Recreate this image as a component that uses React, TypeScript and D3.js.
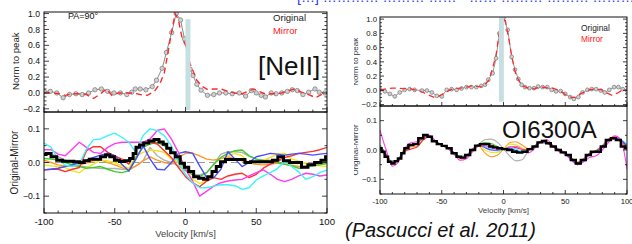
import React from "react";
import * as d3 from "d3";

// ---------------- DATA ----------------
const X_MAJOR = [-100, -50, 0, 50, 100];
const X_MINOR = [-90, -80, -70, -60, -40, -30, -20, -10, 10, 20, 30, 40, 60, 70, 80, 90];
const TOP_Y_MAJOR = [-0.2, 0.0, 0.2, 0.4, 0.6, 0.8, 1.0];
const BOT_Y_MAJOR = [-0.1, 0.0, 0.1];

const GRID_V = [-100, -95, -90, -85, -80, -75, -70, -65, -60, -55, -50, -45, -40, -35, -30, -25, -20, -15, -10, -5, 0,
  5, 10, 15, 20, 25, 30, 35, 40, 45, 50, 55, 60, 65, 70, 75, 80, 85, 90, 95, 100];

// [NeII] top panel: original (gray markers) and mirror (red dashed)
const NEII_ORIG_V = [-100, -95.5, -91, -86.5, -82, -77.5, -73, -68.5, -64, -59.5, -55, -50.5, -46, -41.5, -38, -35.5, -32, -28, -23.5, -20.5, -16.5, -13.5, -9.8, -6.6, -3.5, -0.7, 3.3, 5.3, 8, 11, 15.5, 20, 24, 28.5, 33, 38, 42.5, 46.5, 50, 53.5, 56.5, 60.5, 64, 68, 72, 75.5, 79, 83, 87, 91.5, 94.5, 98.5];
const NEII_ORIG = [0.02, 0.02, 0.0, -0.06, -0.02, -0.01, -0.02, 0.0, 0.04, 0.05, 0.02, 0.0, 0.0, -0.02, 0.01, 0.05, 0.05, 0.04, 0.08, 0.16, 0.31, 0.51, 0.76, 1.0, 0.92, 0.68, 0.30, 0.22, 0.11, 0.035, -0.03, -0.02, 0.0, 0.0, -0.01, 0.0, -0.04, 0.03, 0.0, -0.03, -0.05, 0.0, -0.01, 0.0, 0.02, 0.04, 0.03, -0.02, 0.01, 0.05, 0.01, 0.0];
const NEII_MIRR_V = [-100, -94, -89, -85, -80, -75, -70, -65, -60, -56, -52, -47, -42, -37, -32, -27, -22, -18, -15, -12, -9.5, -7.3, -5, -2.5, 0, 3, 5.5, 8, 12, 16, 20, 25, 30, 35, 40, 44, 48, 52, 56, 62, 68, 73, 77, 82, 87, 92, 96, 100];
const NEII_MIRR = [0.0, 0.0, -0.01, -0.03, -0.01, -0.01, -0.02, -0.07, -0.01, 0.05, -0.03, 0.0, 0.0, 0.0, -0.02, -0.03, 0.02, 0.12, 0.25, 0.55, 0.8, 1.0, 0.92, 0.7, 0.6, 0.38, 0.27, 0.16, 0.08, 0.04, 0.05, 0.05, 0.02, 0.0, -0.01, 0.02, 0.05, 0.02, -0.01, -0.01, 0.0, 0.03, 0.05, 0.01, -0.02, -0.06, -0.02, 0.0];

// [NeII] bottom panel: original - mirror
const NEII_DIFF_V = [-100, -97, -93, -89, -85, -81, -77, -73, -70, -66, -62, -58, -55, -52, -48.5, -45, -41, -38, -36, -34, -31, -28, -24, -20.5, -17, -14.5, -12, -9, -5.5, -2, 0.5, 4, 7.5, 11, 14.5, 17, 20.5, 23, 26.5, 30, 33, 37, 40, 44, 48, 52, 56, 60, 63, 67.5, 71, 76, 80, 84, 89, 93.5, 98, 100];
const NEII_DIFF = [0.024, 0.027, 0.017, 0.007, 0.004, 0.004, 0.002, 0.0, 0.005, 0.01, 0.01, 0.017, 0.022, 0.017, 0.007, 0.003, 0.005, 0.012, 0.027, 0.045, 0.052, 0.058, 0.064, 0.068, 0.061, 0.054, 0.042, 0.029, 0.017, -0.002, -0.014, -0.027, -0.042, -0.047, -0.05, -0.042, -0.027, -0.012, 0.002, 0.009, 0.009, 0.009, 0.009, 0.0, 0.002, 0.002, 0.002, 0.002, 0.007, 0.017, 0.005, 0.0, 0.0, -0.014, -0.007, 0.0, 0.007, 0.017];
const NEII_CYAN = [0.058, 0.045, 0.01, -0.008, -0.012, -0.005, 0.04, 0.068, 0.07, 0.08, 0.087, 0.075, 0.06, 0.03, 0.08, 0.1, 0.095, 0.08, 0.05, 0.0, -0.035, -0.06, -0.075, -0.075, -0.07, -0.066, -0.066, -0.069, -0.08, -0.075, -0.052, -0.04, -0.03, -0.018, 0.003, -0.012, -0.028, -0.05, -0.042, -0.03, -0.022];
const NEII_MAGENTA = [0.038, 0.038, 0.025, 0.02, 0.04, 0.06, 0.045, 0.03, 0.027, 0.045, 0.056, 0.06, 0.06, 0.06, 0.06, 0.07, 0.095, 0.1, 0.07, 0.03, -0.02, -0.055, -0.1, -0.085, -0.07, -0.06, -0.055, -0.052, -0.05, -0.04, -0.03, -0.022, -0.035, -0.05, -0.057, -0.05, -0.04, -0.032, -0.035, -0.04, -0.037];
const NEII_RED = [-0.022, -0.02, -0.02, -0.027, -0.02, -0.015, 0.035, 0.047, 0.047, 0.03, 0.02, 0.01, -0.005, 0.035, 0.055, 0.06, 0.055, 0.035, 0.015, -0.015, -0.042, -0.06, -0.072, -0.055, -0.045, -0.05, -0.04, -0.035, -0.032, -0.045, -0.035, -0.017, -0.005, 0.005, 0.015, 0.02, 0.027, 0.03, 0.033, 0.038, 0.045];
const NEII_BLUE = [-0.022, -0.02, -0.017, -0.012, -0.007, 0.0, 0.007, 0.015, 0.022, 0.027, 0.02, -0.005, -0.025, 0.01, 0.05, 0.01, -0.02, -0.022, 0.0, 0.027, 0.032, 0.028, -0.01, -0.045, -0.045, -0.02, 0.032, 0.01, -0.012, 0.0, 0.017, 0.022, 0.027, 0.025, 0.022, 0.025, 0.027, 0.025, 0.022, 0.025, 0.027];
const NEII_GREEN = [0.012, 0.01, 0.007, 0.0, -0.007, -0.012, -0.017, -0.015, -0.012, -0.02, -0.027, -0.03, -0.025, 0.015, 0.045, 0.055, 0.06, 0.05, 0.035, 0.01, -0.022, -0.037, -0.042, -0.03, -0.005, 0.015, 0.027, 0.035, 0.037, 0.02, 0.01, 0.005, 0.003, 0.0, -0.005, -0.01, -0.017, -0.015, -0.01, -0.007, -0.003];
const NEII_YELLOW = [-0.007, -0.01, -0.012, -0.015, -0.025, -0.03, -0.015, -0.005, 0.007, 0.005, 0.0, -0.01, -0.017, 0.02, 0.03, 0.037, 0.035, 0.03, 0.01, 0.0, -0.02, -0.05, -0.062, -0.055, -0.03, -0.005, 0.02, 0.027, 0.02, -0.003, 0.0, 0.007, 0.015, 0.025, 0.027, 0.01, 0.005, -0.003, -0.007, -0.01, -0.012];
const NEII_ORANGE = [0.007, 0.0, -0.007, -0.01, -0.012, -0.008, -0.002, 0.005, 0.008, 0.0, -0.007, -0.015, -0.022, -0.01, 0.005, 0.017, 0.007, 0.0, -0.005, 0.015, 0.027, 0.027, 0.02, 0.01, 0.007, 0.012, 0.017, 0.01, 0.005, -0.002, -0.005, -0.007, -0.005, -0.002, -0.005, -0.008, -0.012, -0.01, -0.007, -0.005, -0.002];
const NEII_GRAY = [0.027, 0.025, 0.017, 0.008, -0.002, -0.01, -0.013, -0.016, -0.018, -0.018, -0.018, -0.02, -0.022, -0.01, 0.005, 0.045, 0.02, 0.007, 0.0, -0.01, -0.025, -0.035, -0.037, -0.03, -0.005, 0.025, 0.032, 0.032, 0.03, 0.018, 0.01, 0.008, 0.007, 0.007, 0.005, 0.003, 0.0, -0.002, -0.003, 0.0, 0.0];

// OI 6300A top panel
const OI_ORIG_V = [-100, -96, -92, -88, -84, -80, -76, -72, -66, -62, -58, -54, -50, -46, -42, -38, -34, -30, -26, -22, -18, -15, -12.3, -8.8, -6, -3.4, 0, 3.4, 6.6, 9.3, 12, 14.7, 17.4, 21, 24.7, 28, 31.7, 35.5, 39, 42.5, 46.3, 50, 54, 57, 60.6, 64, 68, 71.4, 75, 78.7, 82, 85.7, 89.5, 93, 96.5, 100];
const OI_ORIG = [0.007, -0.015, -0.05, -0.085, -0.03, 0.007, 0.017, 0.007, -0.003, -0.003, -0.03, -0.077, -0.085, 0.007, 0.017, 0.007, 0.026, 0.045, 0.045, 0.045, 0.063, 0.08, 0.15, 0.24, 0.45, 0.8, 1.02, 0.85, 0.47, 0.29, 0.16, 0.077, 0.045, 0.03, 0.03, 0.053, 0.045, 0.045, 0.007, -0.015, -0.01, -0.05, -0.095, -0.12, -0.095, -0.03, 0.007, 0.017, 0.017, -0.003, -0.03, 0.007, 0.045, 0.045, 0.017, -0.003];
const OI_MIRR_V = [-100, -95, -90, -85, -80, -75, -70, -65, -60, -56, -52, -48, -44, -40, -35, -30, -26, -22, -18, -15, -12, -9, -6, -3.5, -1, 1.5, 4, 7, 10, 13, 16, 20, 25, 30, 35, 40, 45, 50, 55, 58, 62, 66, 70, 75, 80, 84, 88, 92, 96, 100];
const OI_MIRR = [0.007, 0.02, 0.03, 0.03, 0.025, 0.02, 0.0, -0.03, -0.07, -0.1, -0.08, -0.04, 0.0, 0.025, 0.03, 0.045, 0.063, 0.055, 0.05, 0.08, 0.14, 0.3, 0.5, 0.8, 1.0, 0.98, 0.75, 0.45, 0.22, 0.12, 0.06, 0.03, 0.02, 0.05, 0.035, 0.03, 0.0, -0.06, -0.1, -0.1, -0.05, -0.02, 0.01, 0.015, 0.005, -0.04, -0.07, -0.04, 0.0, 0.007];

// OI 6300A bottom panel
const OI_DIFF_V = [-100, -97.5, -95, -92, -89.5, -87, -84, -81.5, -79, -75, -71, -67, -63, -60, -56, -52, -48, -44, -40, -36, -33, -29, -25, -21, -17, -13, -10, -7, -3, 1, 5, 9, 13, 17.4, 21.5, 25.5, 29.6, 32.8, 36.3, 40.3, 44.4, 48.4, 52.5, 56.5, 60.6, 64.6, 68.7, 72.7, 76.8, 80.8, 84.9, 89, 93, 97, 100];
const OI_DIFF = [0.006, -0.006, -0.023, -0.04, -0.046, -0.038, -0.029, -0.011, 0.006, 0.017, 0.02, 0.04, 0.051, 0.045, 0.03, 0.02, 0.014, 0.006, -0.011, -0.023, -0.026, -0.017, 0.0, 0.015, 0.02, 0.02, 0.012, 0.009, 0.006, 0.003, 0.0, -0.006, -0.009, -0.006, 0.003, 0.012, 0.026, 0.031, 0.023, 0.012, 0.0, -0.008, -0.017, -0.034, -0.046, -0.034, -0.017, -0.006, -0.006, 0.012, 0.034, 0.04, 0.034, 0.012, 0.006];
const OI_MAGENTA = [0.068, 0.0, -0.055, -0.04, 0.005, 0.025, 0.028, 0.042, 0.05, 0.03, 0.015, 0.005, -0.015, -0.035, -0.03, -0.005, 0.015, 0.015, 0.007, 0.002, 0.004, 0.01, 0.013, 0.002, -0.01, 0.005, 0.028, 0.035, 0.015, -0.005, -0.015, -0.035, -0.05, -0.04, -0.025, -0.02, 0.0, 0.025, 0.048, 0.035, -0.065];
const OI_RED = [0.0, -0.015, -0.045, -0.035, -0.005, 0.003, 0.01, 0.035, 0.045, 0.03, 0.017, 0.008, -0.01, -0.025, -0.02, 0.002, 0.018, 0.02, 0.017, 0.007, 0.004, 0.01, 0.008, 0.002, 0.0, 0.012, 0.03, 0.028, 0.015, 0.002, -0.01, -0.027, -0.042, -0.03, -0.01, -0.002, 0.015, 0.037, 0.045, 0.035, 0.01];
const OI_ORANGE = [-0.005, -0.02, -0.045, -0.035, -0.002, 0.01, 0.012, 0.035, 0.045, 0.028, 0.015, 0.005, -0.012, -0.03, -0.025, -0.005, 0.013, -0.01, -0.023, -0.018, 0.004, 0.025, 0.028, 0.017, 0.005, 0.01, 0.025, 0.022, 0.01, -0.002, -0.013, -0.03, -0.045, -0.035, -0.015, -0.007, 0.008, 0.03, 0.038, 0.028, 0.005];
const OI_GREEN = [0.017, -0.015, -0.042, -0.03, 0.005, 0.015, 0.022, 0.042, 0.047, 0.03, 0.017, 0.008, -0.008, -0.022, -0.018, 0.002, 0.02, 0.025, 0.022, 0.012, 0.004, 0.0, -0.002, -0.008, 0.0, 0.013, 0.028, 0.027, 0.014, 0.002, -0.01, -0.028, -0.043, -0.032, -0.012, -0.004, 0.012, 0.034, 0.04, 0.03, 0.01];
const OI_YELLOW = [0.01, -0.018, -0.043, -0.03, 0.003, 0.013, 0.02, 0.04, 0.046, 0.03, 0.016, 0.007, -0.01, -0.026, -0.02, 0.0, 0.018, 0.0, -0.008, -0.008, 0.004, 0.02, 0.018, 0.007, 0.0, 0.012, 0.027, 0.025, 0.012, 0.0, -0.012, -0.03, -0.045, -0.033, -0.012, -0.004, 0.01, 0.033, 0.04, 0.032, 0.015];
const OI_CYAN = [0.01, -0.02, -0.045, -0.033, 0.0, 0.015, 0.022, 0.043, 0.048, 0.03, 0.018, 0.008, -0.01, -0.026, -0.02, 0.0, 0.018, 0.01, 0.002, -0.003, 0.004, 0.01, 0.003, -0.003, 0.0, 0.012, 0.027, 0.025, 0.012, 0.0, -0.012, -0.03, -0.046, -0.034, -0.013, -0.005, 0.01, 0.033, 0.042, 0.035, 0.02];
const OI_BLUE = [0.008, -0.02, -0.044, -0.032, 0.0, 0.016, 0.023, 0.044, 0.049, 0.031, 0.017, 0.008, -0.01, -0.027, -0.021, 0.0, 0.018, 0.008, 0.0, -0.001, 0.004, 0.005, -0.002, -0.008, 0.0, 0.012, 0.027, 0.025, 0.012, 0.0, -0.013, -0.031, -0.05, -0.036, -0.013, -0.005, 0.01, 0.033, 0.041, 0.033, 0.015];
const OI_GRAY = [0.008, -0.022, -0.045, -0.032, 0.0, 0.017, 0.025, 0.045, 0.048, 0.03, 0.017, 0.008, -0.01, -0.025, -0.018, 0.005, 0.02, 0.035, 0.037, 0.027, 0.004, -0.02, -0.037, -0.033, -0.005, 0.012, 0.027, 0.025, 0.012, 0.0, -0.012, -0.03, -0.045, -0.033, -0.012, -0.005, 0.01, 0.033, 0.04, 0.03, 0.01];

// velocity bands (shaded)
const NEII_BAND = [0.0, 3.5, 0.93, -0.215];
const OI_BAND = [-3.7, 0.3, 1.03, -0.16];

// ---------------- STYLE ----------------
const FONT = "'Liberation Sans', Arial, Helvetica, sans-serif";
const COL = {
  gray: "#b0b0b0", orange: "#ff9a2a", yellow: "#f4e41c", green: "#3ccc2e",
  red: "#ff3030", blue: "#4a4cff", magenta: "#ff3cf0", cyan: "#3cf4f4",
};

type Pt = [number, number];
const zip = (v: number[], y: number[]): Pt[] => v.map((d, i) => [d, y[i]]);

type Scale = d3.ScaleLinear<number, number>;

function Frame({ x, y }: { x: Scale; y: Scale }) {
  const [x0, x1] = x.range();
  const [y1, y0] = y.range();
  return <rect x={x0} y={y0} width={x1 - x0} height={y1 - y0} fill="none" stroke="#111" strokeWidth={1} />;
}

function Ticks({ x, y, yMajor, yMinorStep, majorLen, minorLen }: { x: Scale; y: Scale; yMajor: number[]; yMinorStep: number; majorLen: number; minorLen: number }) {
  const [x0, x1] = x.range();
  const [yb] = y.range();
  const [d0, d1] = y.domain();
  const minor: number[] = [];
  const start = Math.ceil(d0 / yMinorStep - 1e-6);
  const end = Math.floor(d1 / yMinorStep + 1e-6);
  for (let k = start; k <= end; k++) minor.push(k * yMinorStep);
  const els: React.ReactNode[] = [];
  minor.forEach((m, i) => {
    const isMajor = yMajor.some((t) => Math.abs(t - m) < 1e-6);
    const L = isMajor ? majorLen : minorLen;
    const py = y(m);
    els.push(<line key={"l" + i} x1={x0} x2={x0 + L} y1={py} y2={py} stroke="#111" strokeWidth={0.8} />);
    els.push(<line key={"r" + i} x1={x1} x2={x1 - L} y1={py} y2={py} stroke="#111" strokeWidth={0.8} />);
  });
  X_MAJOR.forEach((t, i) => {
    els.push(<line key={"xm" + i} x1={x(t)} x2={x(t)} y1={yb} y2={yb - majorLen} stroke="#111" strokeWidth={0.8} />);
  });
  X_MINOR.forEach((t, i) => {
    els.push(<line key={"xn" + i} x1={x(t)} x2={x(t)} y1={yb} y2={yb - minorLen} stroke="#111" strokeWidth={0.8} />);
  });
  return <g>{els}</g>;
}

function YLabels({ y, values, xRight, size }: { y: Scale; values: number[]; xRight: number; size: number }) {
  const f = d3.format(".1f");
  return (
    <g fontFamily={FONT} fontSize={size} fill="#111" textAnchor="end">
      {values.map((v) => (
        <text key={v} x={xRight} y={y(v) + size * 0.36}>{f(v)}</text>
      ))}
    </g>
  );
}

function XLabels({ x, yBase, size }: { x: Scale; yBase: number; size: number }) {
  return (
    <g fontFamily={FONT} fontSize={size} fill="#111" textAnchor="middle">
      {X_MAJOR.map((v) => (
        <text key={v} x={x(v)} y={yBase}>{String(v)}</text>
      ))}
    </g>
  );
}

function TopPanel({ id, x, y, orig, mirr, band, r, lw }: { id: string; x: Scale; y: Scale; orig: Pt[]; mirr: Pt[]; band: number[]; r: number; lw: number }) {
  const line = d3.line<Pt>().x((d) => x(d[0])).y((d) => y(d[1]));
  const [x0, x1] = x.range();
  const [y1, y0] = y.range();
  return (
    <g>
      <clipPath id={id}><rect x={x0} y={y0} width={x1 - x0} height={y1 - y0} /></clipPath>
      <g clipPath={`url(#${id})`}>
        <path d={line(orig) || ""} fill="none" stroke="#8a8a8a" strokeWidth={lw} />
        {orig.map((d, i) => (
          <circle key={i} cx={x(d[0])} cy={y(d[1])} r={r} fill="#d0d0d0" stroke="#777" strokeWidth={0.7} />
        ))}
        <path d={line(mirr) || ""} fill="none" stroke="#ff2a2a" strokeWidth={lw * 1.4} strokeDasharray="6,4" />
        <rect x={x(band[0])} y={y(band[2])} width={x(band[1]) - x(band[0])} height={y(band[3]) - y(band[2])} fill="#c6e0e2" />
      </g>
    </g>
  );
}

function BottomPanel({ id, x, y, lines, black, blackW, lw, smooth, zeroLine }: { id: string; x: Scale; y: Scale; lines: { c: string; d: Pt[] }[]; black: Pt[]; blackW: number; lw: number; smooth: boolean; zeroLine: boolean }) {
  const line = d3.line<Pt>().x((d) => x(d[0])).y((d) => y(d[1])).curve(smooth ? d3.curveMonotoneX : d3.curveLinear);
  const step = d3.line<Pt>().x((d) => x(d[0])).y((d) => y(d[1])).curve(d3.curveStep);
  const [x0, x1] = x.range();
  const [y1, y0] = y.range();
  return (
    <g>
      <clipPath id={id}><rect x={x0} y={y0} width={x1 - x0} height={y1 - y0} /></clipPath>
      <g clipPath={`url(#${id})`}>
        {zeroLine && <line x1={x0} x2={x1} y1={y(0)} y2={y(0)} stroke="#9a9a9a" strokeWidth={1.2} strokeDasharray="7,4" />}
        {lines.map((l, i) => (
          <path key={i} d={line(l.d) || ""} fill="none" stroke={l.c} strokeWidth={lw} strokeLinejoin="round" />
        ))}
        <path d={step(black) || ""} fill="none" stroke="#000" strokeWidth={blackW} />
      </g>
    </g>
  );
}

export default function App() {
  // [NeII] figure scales
  const xL = d3.scaleLinear().domain([-100, 100]).range([44, 327]);
  const yLT = d3.scaleLinear().domain([-0.24, 1.02]).range([112, 12]);
  const yLB = d3.scaleLinear().domain([-0.15, 0.15]).range([213, 112]);
  // OI figure scales
  const xR = d3.scaleLinear().domain([-100, 100]).range([380, 627]);
  const yRT = d3.scaleLinear().domain([-0.22, 1.03]).range([106, 17]);
  const yRB = d3.scaleLinear().domain([-0.15, 0.15]).range([194, 106]);

  const neLines = [
    { c: COL.gray, d: zip(GRID_V, NEII_GRAY) },
    { c: COL.orange, d: zip(GRID_V, NEII_ORANGE) },
    { c: COL.yellow, d: zip(GRID_V, NEII_YELLOW) },
    { c: COL.green, d: zip(GRID_V, NEII_GREEN) },
    { c: COL.red, d: zip(GRID_V, NEII_RED) },
    { c: COL.blue, d: zip(GRID_V, NEII_BLUE) },
    { c: COL.magenta, d: zip(GRID_V, NEII_MAGENTA) },
    { c: COL.cyan, d: zip(GRID_V, NEII_CYAN) },
  ];
  const oiLines = [
    { c: COL.gray, d: zip(GRID_V, OI_GRAY) },
    { c: COL.orange, d: zip(GRID_V, OI_ORANGE) },
    { c: COL.yellow, d: zip(GRID_V, OI_YELLOW) },
    { c: COL.green, d: zip(GRID_V, OI_GREEN) },
    { c: COL.red, d: zip(GRID_V, OI_RED) },
    { c: COL.cyan, d: zip(GRID_V, OI_CYAN) },
    { c: COL.blue, d: zip(GRID_V, OI_BLUE) },
    { c: COL.magenta, d: zip(GRID_V, OI_MAGENTA) },
  ];

  return (
    <svg width={632} height={244} viewBox="0 0 632 244" style={{ position: "absolute", left: 0, top: 0, background: "#fff" }}>
      <rect x={0} y={0} width={632} height={244} fill="#fff" />
      {/* clipped blue caption line above the figure */}
      <text x={297} y={1.5} fontFamily={FONT} fontSize={14} fill="#2a3cf0">[…] ………… ……… …… · …… ……… ……… ……… ……… …</text>

      {/* ---------- [NeII] ---------- */}
      <TopPanel id="clt" x={xL} y={yLT} orig={zip(NEII_ORIG_V, NEII_ORIG)} mirr={zip(NEII_MIRR_V, NEII_MIRR)} band={NEII_BAND} r={2.2} lw={1} />
      <BottomPanel id="clb" x={xL} y={yLB} lines={neLines} black={zip(NEII_DIFF_V, NEII_DIFF)} blackW={3} lw={1.4} smooth={false} zeroLine={true} />
      <Ticks x={xL} y={yLT} yMajor={TOP_Y_MAJOR} yMinorStep={0.05} majorLen={5} minorLen={2.5} />
      <Ticks x={xL} y={yLB} yMajor={BOT_Y_MAJOR} yMinorStep={0.05} majorLen={5} minorLen={2.5} />
      <Frame x={xL} y={yLT} />
      <Frame x={xL} y={yLB} />
      <YLabels y={yLT} values={TOP_Y_MAJOR} xRight={40} size={8.6} />
      <YLabels y={yLB} values={BOT_Y_MAJOR} xRight={40} size={8.6} />
      <XLabels x={xL} yBase={225} size={9.6} />
      <text x={xL(0)} y={236.5} fontFamily={FONT} fontSize={9.5} fill="#444" textAnchor="middle">Velocity [km/s]</text>
      <text transform={`translate(18.5,${yLT(0.4)}) rotate(-90)`} fontFamily={FONT} fontSize={9.6} fill="#222" textAnchor="middle">Norm to peak</text>
      <text transform={`translate(17.5,${yLB(0)}) rotate(-90)`} fontFamily={FONT} fontSize={10} fill="#222" textAnchor="middle">Original-Mirror</text>
      <text x={68} y={18.8} fontFamily={FONT} fontSize={9} fill="#111">PA=90°</text>
      <text x={273} y={20.5} fontFamily={FONT} fontSize={9.6} fill="#222">Original</text>
      <text x={273} y={33.5} fontFamily={FONT} fontSize={9.4} fill="#ff2020">Mirror</text>
      <text x={258} y={74.5} fontFamily={FONT} fontSize={26} fill="#111">[NeII]</text>

      {/* ---------- OI 6300A ---------- */}
      <TopPanel id="crt" x={xR} y={yRT} orig={zip(OI_ORIG_V, OI_ORIG)} mirr={zip(OI_MIRR_V, OI_MIRR)} band={OI_BAND} r={1.9} lw={0.9} />
      <BottomPanel id="crb" x={xR} y={yRB} lines={oiLines} black={zip(OI_DIFF_V, OI_DIFF)} blackW={2.4} lw={1.1} smooth={true} zeroLine={false} />
      <Ticks x={xR} y={yRT} yMajor={TOP_Y_MAJOR} yMinorStep={0.05} majorLen={4} minorLen={2} />
      <Ticks x={xR} y={yRB} yMajor={BOT_Y_MAJOR} yMinorStep={0.05} majorLen={4} minorLen={2} />
      <Frame x={xR} y={yRT} />
      <Frame x={xR} y={yRB} />
      <YLabels y={yRT} values={TOP_Y_MAJOR} xRight={377} size={7.8} />
      <YLabels y={yRB} values={BOT_Y_MAJOR} xRight={377} size={7.6} />
      <XLabels x={xR} yBase={204} size={7.6} />
      <text x={xR(0)} y={213} fontFamily={FONT} fontSize={8} fill="#444" textAnchor="middle">Velocity [km/s]</text>
      <clipPath id="ytitle"><rect x={354} y={0} width={20} height={244} /></clipPath>
      <g clipPath="url(#ytitle)">
        <text transform={`translate(358,${yRT(0.4)}) rotate(-90)`} fontFamily={FONT} fontSize={8} fill="#333" textAnchor="middle">Norm to peak</text>
        <text transform={`translate(358,${yRB(0)}) rotate(-90)`} fontFamily={FONT} fontSize={8} fill="#333" textAnchor="middle">Original-Mirror</text>
      </g>
      <text x={581} y={31} fontFamily={FONT} fontSize={8.4} fill="#222">Original</text>
      <text x={581} y={42} fontFamily={FONT} fontSize={8.4} fill="#ff2020">Mirror</text>
      <text x={502} y={138} fontFamily={FONT} fontSize={24} fill="#111">OI6300A</text>

      <text x={345} y={237} fontFamily={FONT} fontSize={20} fontStyle="italic" fill="#111">(Pascucci et al. 2011)</text>
    </svg>
  );
}
